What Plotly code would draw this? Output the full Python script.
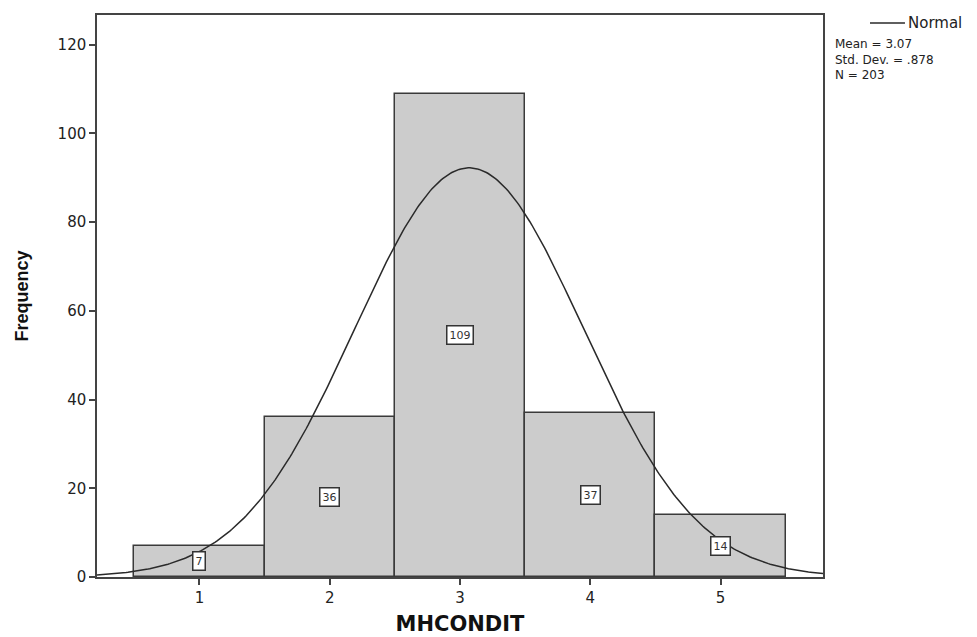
import numpy as np
import plotly.graph_objects as go

categories = [1, 2, 3, 4, 5]
frequencies = [7, 36, 109, 37, 14]
mean = 3.07
std_dev = 0.878
n_total = 203
y_ticks = [0, 20, 40, 60, 80, 100, 120]
stats_text = "Mean = 3.07<br>Std. Dev. = .878<br>N = 203"
legend_label = "Normal"

x_min, x_max = 0.214, 5.786
xs = np.linspace(x_min, x_max, 400)
normal_y = n_total * 1.0 / (std_dev * np.sqrt(2 * np.pi)) * np.exp(-0.5 * ((xs - mean) / std_dev) ** 2)

WIDE = "DejaVu Sans, Verdana, sans-serif"
ARIAL = "Arial, Liberation Sans, sans-serif"

fig = go.Figure()
fig.add_trace(go.Bar(
    x=categories, y=frequencies, width=1.0,
    marker=dict(color="#cccccc", line=dict(color="#3a3a3a", width=1.5)),
    showlegend=False, hoverinfo="x+y",
))
fig.add_trace(go.Scatter(
    x=xs, y=normal_y, mode="lines", name=legend_label,
    line=dict(color="#2a2a2a", width=1.5), showlegend=False,
))

for c, f in zip(categories, frequencies):
    fig.add_annotation(
        x=c, y=f / 2, text=str(f), showarrow=False,
        font=dict(family=WIDE, size=11, color="#333333"),
        bgcolor="white", bordercolor="#333333", borderwidth=1.5, borderpad=2,
    )

# legend key (drawn manually so it doesn't push the margins)
fig.add_shape(type="line", xref="paper", yref="paper",
              x0=1.0647, x1=1.1129, y0=0.9858, y1=0.9858,
              line=dict(color="#2a2a2a", width=1.5))
fig.add_annotation(
    xref="paper", yref="paper", x=1.1143, y=0.9858, xanchor="left", yanchor="middle",
    text=legend_label, showarrow=False,
    font=dict(family=WIDE, size=15, color="#222222"),
)
fig.add_annotation(
    xref="paper", yref="paper", x=1.0138, y=0.9205, xanchor="left", yanchor="middle",
    text=stats_text, align="left", showarrow=False,
    font=dict(family=WIDE, size=12, color="#222222"),
)

fig.update_layout(
    width=969, height=629,
    margin=dict(l=89, r=154, t=5, b=59),
    paper_bgcolor="white", plot_bgcolor="white",
    font=dict(family=WIDE, color="#222222"),
    bargap=0,
    showlegend=False,
    xaxis=dict(
        range=[x_min, x_max], tickvals=categories, ticktext=[str(c) for c in categories],
        ticks="outside", ticklen=6, tickwidth=1.5, tickcolor="#444444",
        showline=True, linecolor="#444444", linewidth=1.5, mirror=True,
        showgrid=False, zeroline=False,
        tickfont=dict(family=WIDE, size=15, color="#222222"),
        title=dict(text="<b>MHCONDIT</b>", font=dict(family=WIDE, size=21, color="#111111"), standoff=11),
    ),
    yaxis=dict(
        range=[0, 126.7], tickvals=y_ticks,
        ticks="outside", ticklen=6, tickwidth=1.5, tickcolor="#444444",
        showline=True, linecolor="#444444", linewidth=1.5, mirror=True,
        showgrid=False, zeroline=False,
        tickfont=dict(family=WIDE, size=15, color="#222222"),
        title=dict(text="<b>Frequency</b>", font=dict(family=ARIAL, size=18, color="#111111"), standoff=24),
    ),
)

fig.write_html("out.html")
